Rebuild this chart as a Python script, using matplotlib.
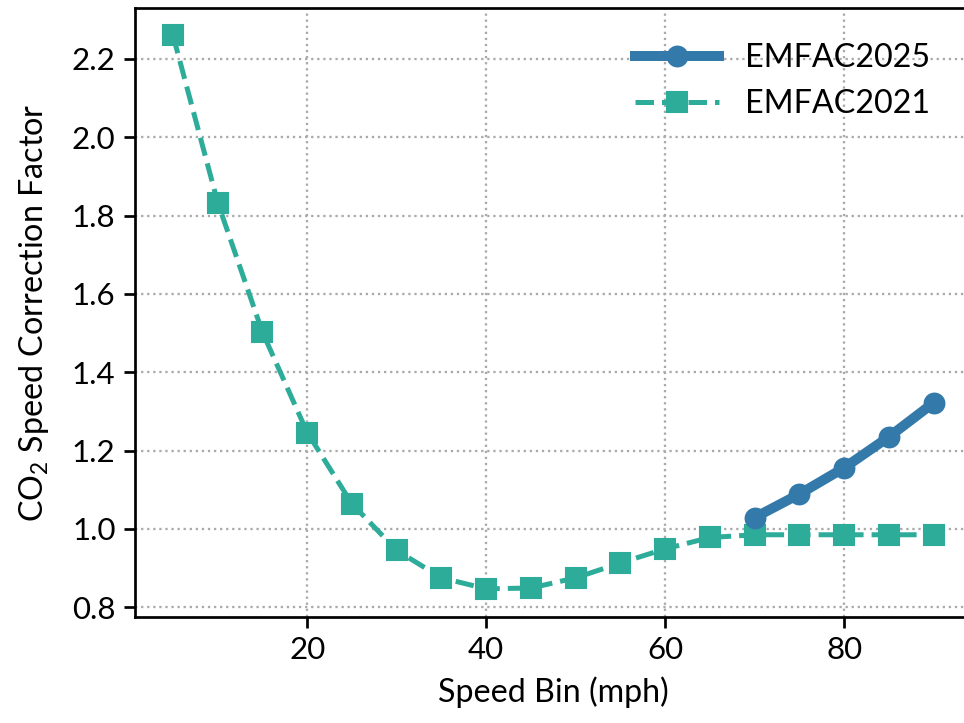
import numpy as np
import matplotlib
matplotlib.use("Agg")
import matplotlib.pyplot as plt

# Speed bins (mph) and CO2 speed correction factors
speed_2021 = [5, 10, 15, 20, 25, 30, 35, 40, 45, 50, 55, 60, 65, 70, 75, 80, 85, 90]
scf_2021 = [2.26, 1.833, 1.502, 1.246, 1.064, 0.945, 0.875, 0.847, 0.849, 0.875,
            0.913, 0.949, 0.978, 0.985, 0.985, 0.985, 0.985, 0.985]

speed_2025 = [70, 75, 80, 85, 90]
scf_2025 = [1.029, 1.089, 1.156, 1.235, 1.322]

plt.rcParams['font.family'] = ['Lato', 'DejaVu Sans']
plt.rcParams['mathtext.fontset'] = 'custom'
plt.rcParams['mathtext.rm'] = 'Lato'

fig = plt.figure(figsize=(964 / 150, 723 / 150), dpi=150)
ax = fig.add_axes([0.14, 0.1466, 0.868, 0.8424])

ax.plot(speed_2025, scf_2025, color='#337aab', lw=4.8, marker='o', ms=9.5,
        label='EMFAC2025', zorder=3)
ax.plot(speed_2021, scf_2021, color='#2eac9a', lw=2.4, ls='--',
        marker='s', ms=9.5, label='EMFAC2021', zorder=2)

ax.set_xlim(0.75, 94.25)
ax.set_ylim(0.775, 2.33)
ax.set_xticks([20, 40, 60, 80])
ax.set_yticks([0.8, 1.0, 1.2, 1.4, 1.6, 1.8, 2.0, 2.2])
ax.grid(True, ls=':', color='#aaaaaa', lw=1.1)
ax.set_axisbelow(True)

ax.tick_params(labelsize=15, length=5.3, width=1.3, direction='out', pad=4)
for s in ax.spines.values():
    s.set_linewidth(1.3)

ax.set_xlabel('Speed Bin (mph)', fontsize=15.5, labelpad=6)
ax.set_ylabel(r'CO$_{\mathregular{2}}$ Speed Correction Factor', fontsize=15.5, labelpad=10)

ax.legend(loc='upper right', frameon=False, fontsize=15.5, handlelength=2.6,
          handletextpad=0.8, bbox_to_anchor=(0.985, 0.99))

fig.savefig('out.png', dpi=150)
